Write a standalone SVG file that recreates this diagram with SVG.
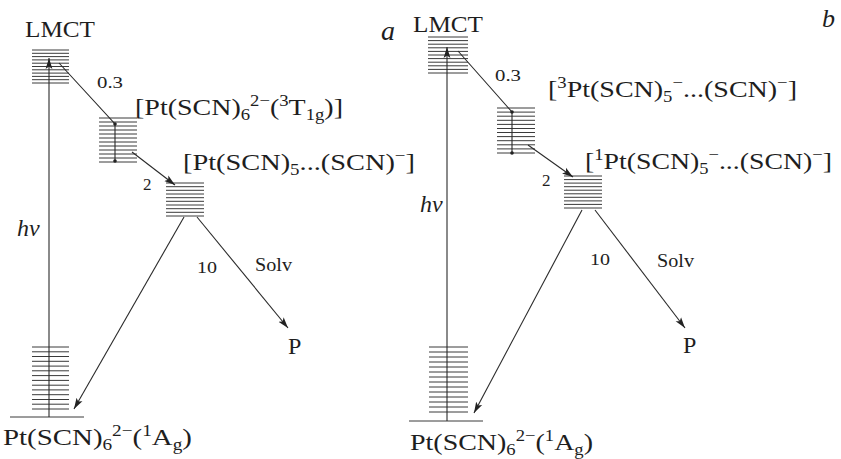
<svg xmlns="http://www.w3.org/2000/svg" width="841" height="459" viewBox="0 0 841 459">
<style>
text{font-family:"Liberation Serif","Times New Roman",serif;fill:#1e1e1e}
.big{font-size:24px}
.sm{font-size:17px}
.it{font-style:italic}
.lv{stroke:#3a3a3a;stroke-width:1;fill:none}
.c{stroke:#2a2a2a;stroke-width:1.1;fill:none}
.ar{marker-end:url(#ah)}
.dot{fill:#222}
</style>
<defs>
<marker id="ah" markerUnits="userSpaceOnUse" markerWidth="13" markerHeight="8" refX="11" refY="4" orient="auto">
<path d="M0,0.6 L11,4 L0,7.4 L2.5,4 Z" fill="#222"/>
</marker>
</defs>
<rect width="841" height="459" fill="#fff"/>

<!-- Panel a -->
<g id="a-lmct">
<path class="lv" d="M32,50H69M32,53.3H69M32,56.6H69M32,59.9H69M32,63.2H69M32,66.5H69M32,69.8H69M32,73.1H69M32,76.4H69M32,79.7H69M32,83H69"/>
<text class="big" x="25" y="37" textLength="70" lengthAdjust="spacingAndGlyphs">LMCT</text>
</g>
<g id="a-triplet">
<path class="lv" d="M99,118H137M99,122H137M99,126H137M99,130H137M99,134H137M99,138H137M99,142H137M99,146H137M99,150H137M99,154H137M99,158H137M99,162H137"/>
<text class="big" x="135" y="115" textLength="208" lengthAdjust="spacingAndGlyphs">[Pt(SCN)<tspan dy="5" font-size="16">6</tspan><tspan dy="-14" font-size="16">2−</tspan><tspan dy="9">(</tspan><tspan dy="-9" font-size="16">3</tspan><tspan dy="9">T</tspan><tspan dy="5" font-size="16">1g</tspan><tspan dy="-5">)]</tspan></text>
</g>
<g id="a-pair">
<path class="lv" d="M166,183H204M166,186.7H204M166,190.3H204M166,194H204M166,197.7H204M166,201.3H204M166,205H204M166,208.7H204M166,212.3H204M166,216H204"/>
<text class="big" x="183" y="170" textLength="232" lengthAdjust="spacingAndGlyphs">[Pt(SCN)<tspan dy="5" font-size="16">5</tspan><tspan dy="-5">...(SCN)</tspan><tspan dy="-9" font-size="16">−</tspan><tspan dy="9">]</tspan></text>
</g>
<g id="a-ground">
<path class="lv" d="M32,347H69M32,351.8H69M32,356.5H69M32,361.3H69M32,366.1H69M32,370.8H69M32,375.6H69M32,380.4H69M32,385.2H69M32,389.9H69M32,394.7H69M32,399.5H69M32,404.2H69M32,409H69"/>
<path class="lv" d="M10,417H84"/>
<text class="big" x="3" y="445" textLength="189" lengthAdjust="spacingAndGlyphs">Pt(SCN)<tspan dy="5" font-size="16">6</tspan><tspan dy="-14" font-size="16">2−</tspan><tspan dy="9">(</tspan><tspan dy="-9" font-size="16">1</tspan><tspan dy="9">A</tspan><tspan dy="5" font-size="16">g</tspan><tspan dy="-5">)</tspan></text>
</g>
<g id="a-product">
<text class="big" x="288" y="354">P</text>
</g>
<text class="it" x="381" y="40" font-size="28">a</text>

<!-- Panel b -->
<g id="b-lmct">
<path class="lv" d="M428,37H468M428,40.6H468M428,44.2H468M428,47.8H468M428,51.4H468M428,55H468M428,58.6H468M428,62.2H468M428,65.8H468M428,69.4H468M428,73H468"/>
<text class="big" x="413" y="32" textLength="70" lengthAdjust="spacingAndGlyphs">LMCT</text>
</g>
<g id="b-triplet">
<path class="lv" d="M497,108H535M497,112.1H535M497,116.2H535M497,120.3H535M497,124.4H535M497,128.5H535M497,132.5H535M497,136.6H535M497,140.7H535M497,144.8H535M497,148.9H535M497,153H535"/>
<text class="big" x="548" y="97" textLength="249" lengthAdjust="spacingAndGlyphs">[<tspan dy="-9" font-size="16">3</tspan><tspan dy="9">Pt(SCN)</tspan><tspan dy="5" font-size="16">5</tspan><tspan dy="-14" font-size="16">−</tspan><tspan dy="9">...(SCN)</tspan><tspan dy="-9" font-size="16">−</tspan><tspan dy="9">]</tspan></text>
</g>
<g id="b-singlet">
<path class="lv" d="M564,176H602M564,179.6H602M564,183.1H602M564,186.7H602M564,190.2H602M564,193.8H602M564,197.3H602M564,200.9H602M564,204.4H602M564,208H602"/>
<text class="big" x="585" y="169" textLength="247" lengthAdjust="spacingAndGlyphs">[<tspan dy="-9" font-size="16">1</tspan><tspan dy="9">Pt(SCN)</tspan><tspan dy="5" font-size="16">5</tspan><tspan dy="-14" font-size="16">−</tspan><tspan dy="9">...(SCN)</tspan><tspan dy="-9" font-size="16">−</tspan><tspan dy="9">]</tspan></text>
</g>
<g id="b-ground">
<path class="lv" d="M429,347H468M429,352H468M429,357H468M429,362H468M429,367H468M429,372H468M429,377H468M429,382H468M429,387H468M429,392H468M429,397H468M429,402H468M429,407H468M429,412H468"/>
<path class="lv" d="M409,421H483"/>
<text class="big" x="410" y="450" textLength="183" lengthAdjust="spacingAndGlyphs">Pt(SCN)<tspan dy="5" font-size="16">6</tspan><tspan dy="-14" font-size="16">2−</tspan><tspan dy="9">(</tspan><tspan dy="-9" font-size="16">1</tspan><tspan dy="9">A</tspan><tspan dy="5" font-size="16">g</tspan><tspan dy="-5">)</tspan></text>
</g>
<g id="b-product">
<text class="big" x="683" y="353">P</text>
</g>
<text class="it" x="822" y="27" font-size="26">b</text>

<!-- Connectors -->
<g id="connectors">
<path class="c ar" d="M49,417V58"/>
<path class="c" d="M59,63L115,124V161"/>
<circle class="dot" cx="115" cy="124" r="1.8"/>
<circle class="dot" cx="115" cy="161" r="1.8"/>
<path class="c ar" d="M132,152L175,185"/>
<path class="c ar" d="M184,217L74,409"/>
<path class="c ar" d="M197,217L288,328"/>

<path class="c ar" d="M447,421V47"/>
<path class="c" d="M458,51L512,112V153"/>
<circle class="dot" cx="512" cy="112" r="1.8"/>
<circle class="dot" cx="512" cy="153" r="1.8"/>
<path class="c ar" d="M528,145L573,177"/>
<path class="c ar" d="M582,210L474,413"/>
<path class="c ar" d="M595,210L685,328"/>
</g>
<g id="edge-labels">
<text class="sm" x="97" y="88" textLength="26" lengthAdjust="spacingAndGlyphs">0.3</text>
<text class="sm" x="143" y="190">2</text>
<text class="it big" x="17" y="236">hν</text>
<text class="sm" x="197" y="273" textLength="20" lengthAdjust="spacingAndGlyphs">10</text>
<text x="255" y="271" font-size="18" textLength="37" lengthAdjust="spacingAndGlyphs">Solv</text>

<text class="sm" x="495" y="81" textLength="26" lengthAdjust="spacingAndGlyphs">0.3</text>
<text class="sm" x="542" y="186">2</text>
<text class="it big" x="420" y="212">hν</text>
<text class="sm" x="590" y="265" textLength="20" lengthAdjust="spacingAndGlyphs">10</text>
<text x="657" y="267" font-size="18" textLength="37" lengthAdjust="spacingAndGlyphs">Solv</text>
</g>
</svg>
